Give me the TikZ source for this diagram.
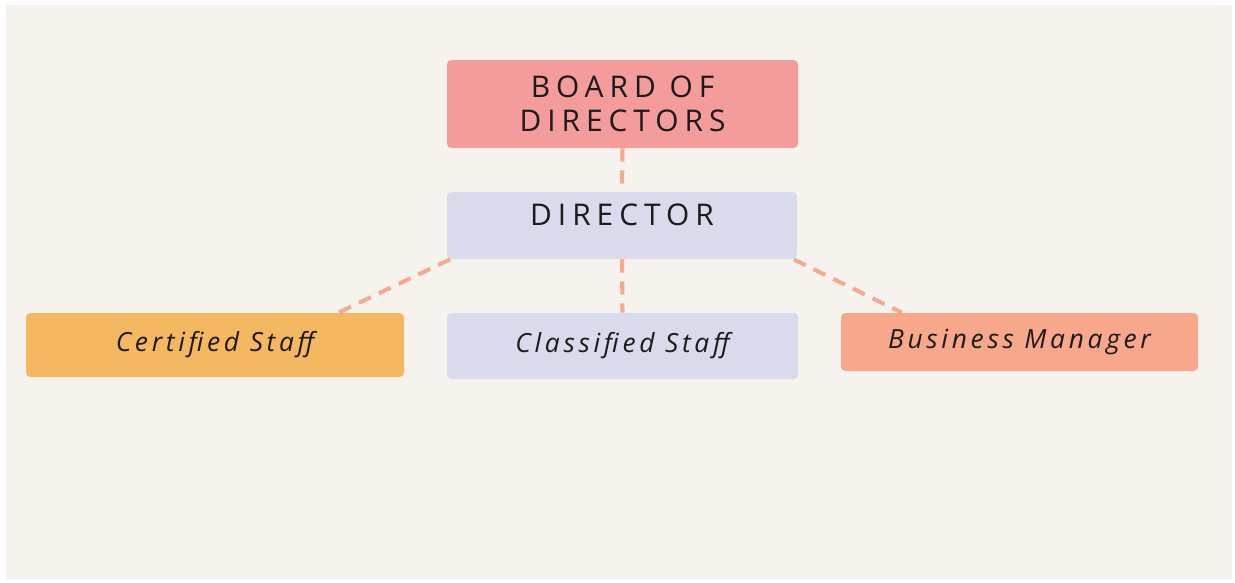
\documentclass[tikz,border=0pt]{standalone}
\usepackage{fontspec}
\setmainfont{Open Sans}
\newfontfamily\capsfont[LetterSpace=20]{Open Sans}
\newfontfamily\handfont[LetterSpace=14]{Open Sans}
\usepackage{xcolor}
\definecolor{bgcol}{HTML}{F6F3EE}
\definecolor{boardcol}{HTML}{F49B9B}
\definecolor{lilac}{HTML}{D9DAEB}
\definecolor{certcol}{HTML}{F4B960}
\definecolor{bmcol}{HTML}{F7A88A}
\definecolor{linkcol}{HTML}{F7A98B}
\definecolor{inkcol}{HTML}{1C1A1A}

\begin{document}
\begin{tikzpicture}[
  box/.style={rounded corners=2.5pt, inner sep=0pt, text=inkcol, align=center},
  rolebox/.style={box, font=\handfont\itshape\fontsize{15}{17}\selectfont},
  headbox/.style={box, font=\capsfont\fontsize{17}{19}\selectfont},
  link/.style={draw=linkcol, line width=2.3pt, dash pattern=on 7.5pt off 5pt}
]
\useasboundingbox (0,0) rectangle (24.7,-11.66);

% Draw background
\fill[bgcol] (0.12,-0.1) rectangle (24.64,-11.6);

% Draw top boxes
\node[headbox, fill=boardcol, minimum width=7.02cm, minimum height=1.76cm] (board) at (12.45,-2.08) {BOARD OF\\DIRECTORS};
\node[headbox, fill=lilac, minimum width=7cm, text height=0.66cm, text depth=0.68cm] (dir) at (12.44,-4.51) {DIRECTOR};

% Draw bottom boxes
\node[rolebox, fill=certcol, minimum width=7.56cm, minimum height=1.28cm] (cert) at (4.3,-6.9) {Certified Staff};
\node[rolebox, fill=lilac, minimum width=7.02cm, minimum height=1.32cm] (cls) at (12.45,-6.92) {Classified Staff};
\node[rolebox, fill=bmcol, minimum width=7.14cm, minimum height=1.16cm] (bm) at (20.39,-6.84) {Business Manager};

% Draw dashed links
\draw[link] (board.south) -- (dir.north);
\draw[link] ([xshift=2pt]dir.south west) -- ([xshift=-1.32cm]cert.north east);
\draw[link] (dir.south) -- (cls.north);
\draw[link] ([xshift=-2pt]dir.south east) -- ([xshift=1.22cm]bm.north west);
\end{tikzpicture}
\end{document}
